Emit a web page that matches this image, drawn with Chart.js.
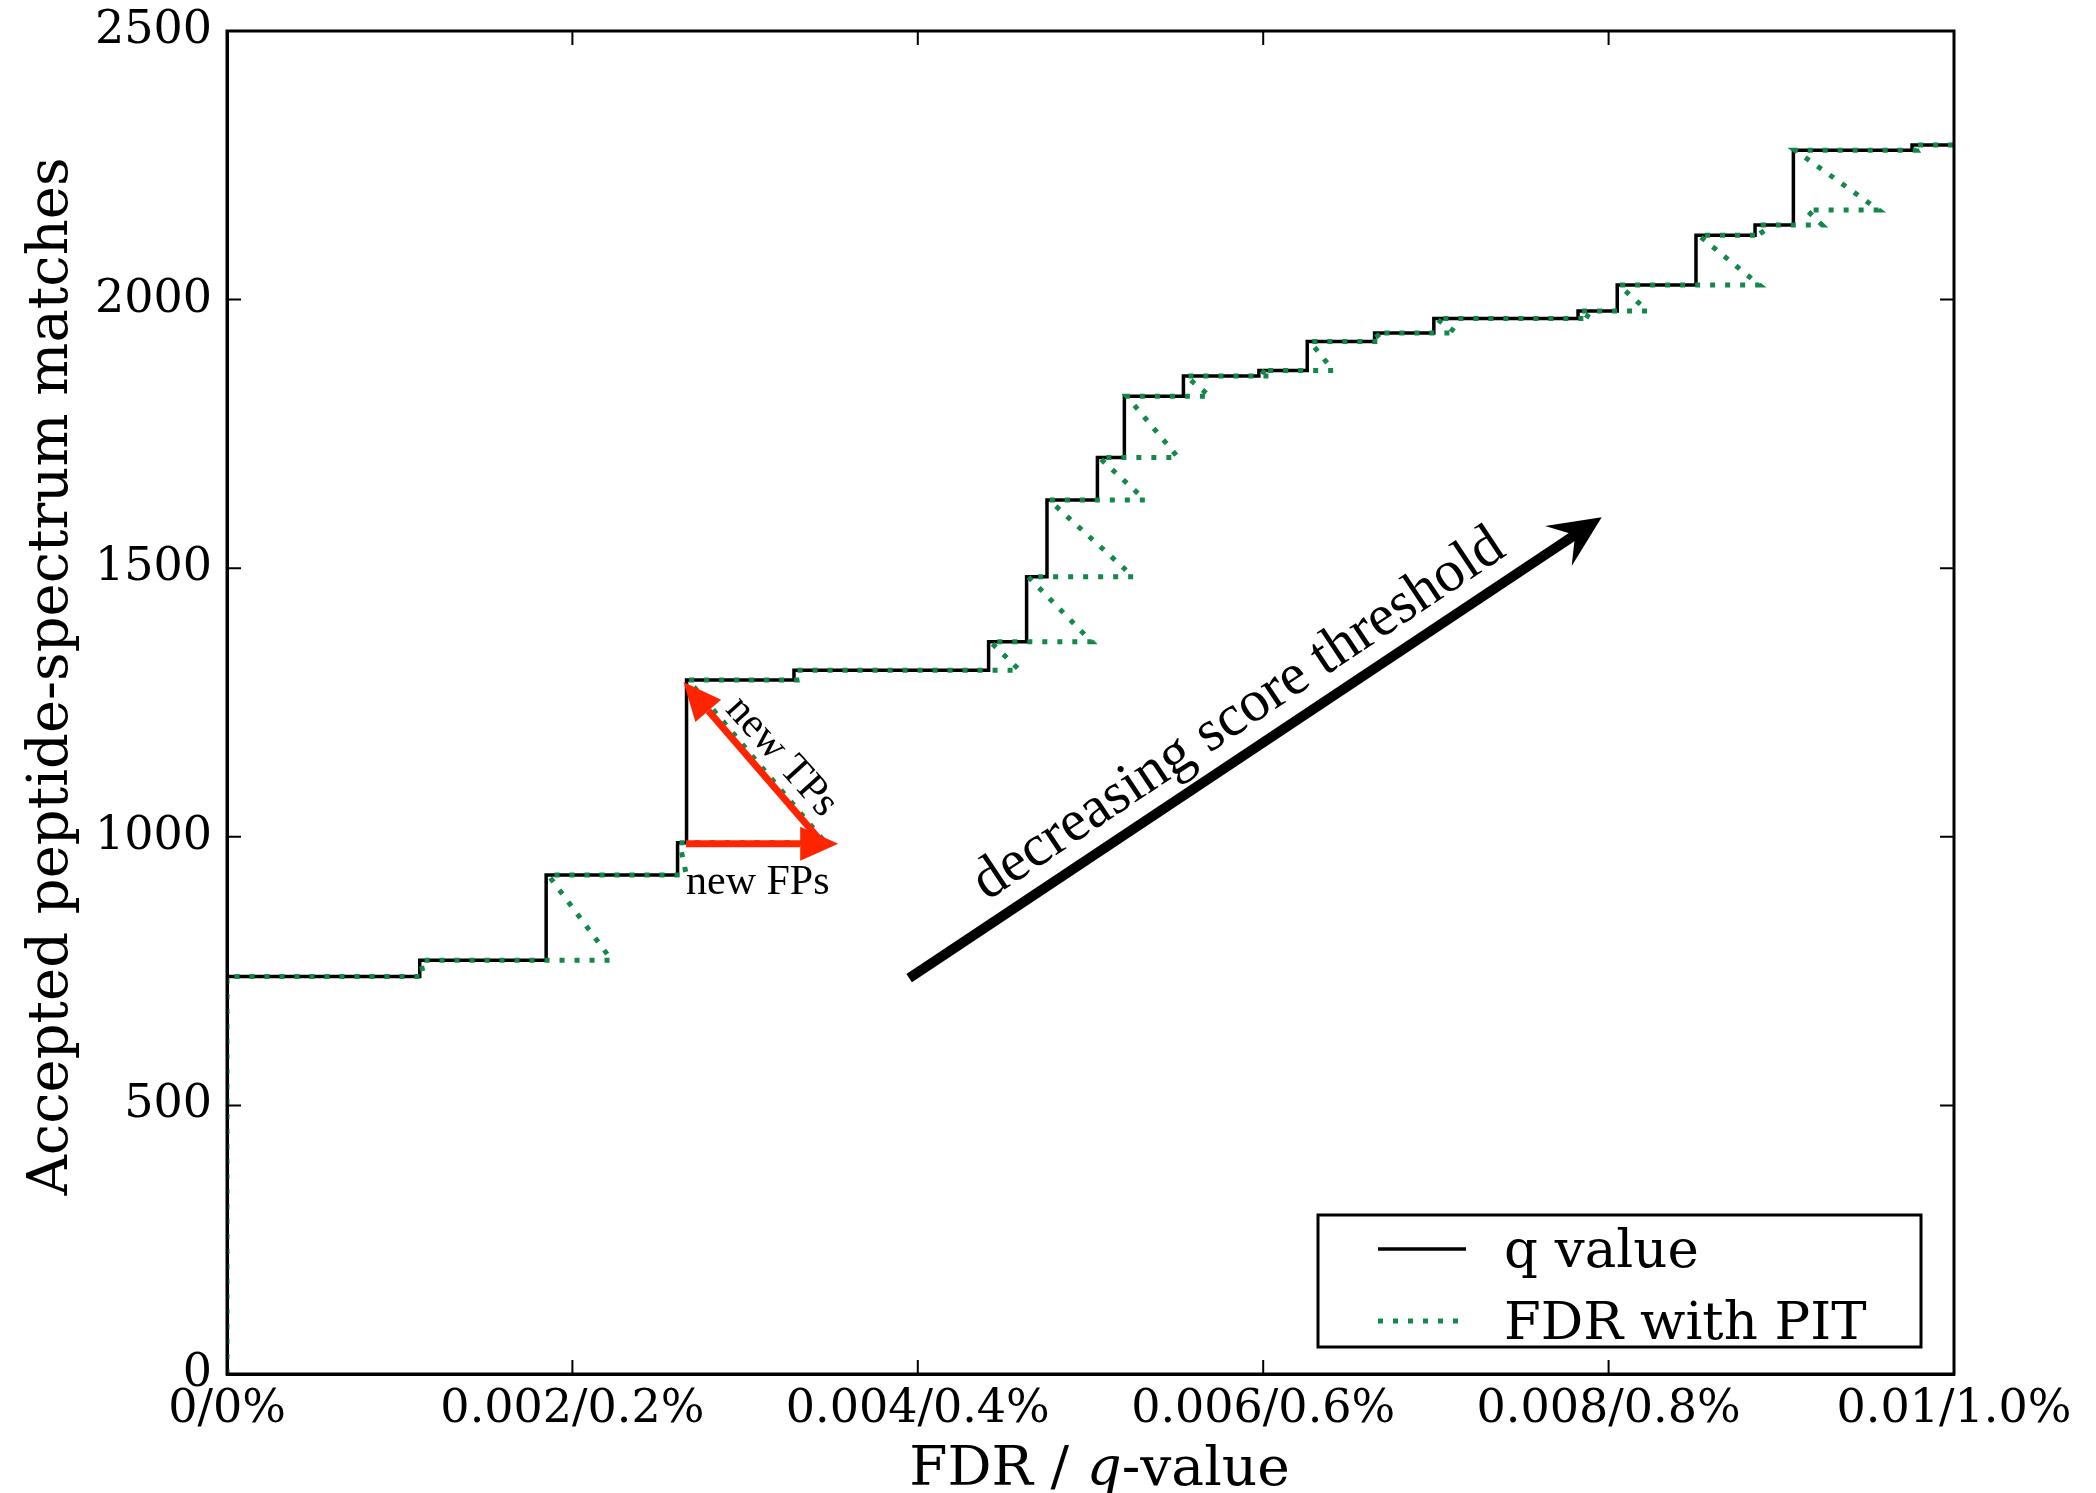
<!DOCTYPE html>
<html>
<head>
<meta charset="utf-8">
<script src="https://cdn.jsdelivr.net/npm/chart.js@4.4.1/dist/chart.umd.min.js"></script>
<style>
  html, body { margin: 0; padding: 0; background: #fff; }
  #wrap { width: 2096px; height: 1493px; position: relative; }
</style>
</head>
<body>
<div id="wrap"><canvas id="fdrChart"></canvas></div>
<script>
// q value: x where the step happens, y = new level
const qFdr = [0, 0, 0.001116, 0.001848, 0.002609, 0.002661, 0.003283, 0.00441, 0.00463, 0.004748,
  0.00504, 0.005196, 0.005538, 0.005975, 0.006255, 0.006645, 0.006988, 0.007823, 0.00805, 0.008506,
  0.008848, 0.00907, 0.009757, 0.01];
const qAccepted = [0, 740, 770, 929, 989, 1292, 1310, 1363, 1484, 1627,
  1706, 1820, 1858, 1868, 1922, 1938, 1965, 1979, 2027, 2120,
  2139, 2278, 2288, 2288];

// FDR with PIT: path goes right (new FPs) then up-left (new TPs)
const pitFdr = [0, 0, 0.00114, 0.00112, 0.002228, 0.00186, 0.00266, 0.00262, 0.003466, 0.00267,
  0.0033, 0.00329, 0.00459, 0.00442, 0.005007, 0.00464, 0.005248, 0.00476, 0.005316, 0.00505,
  0.005508, 0.00521, 0.005692, 0.00555, 0.00605, 0.00598, 0.006406, 0.00627, 0.00669, 0.00665,
  0.00712, 0.007, 0.0079, 0.00783, 0.008225, 0.00806, 0.008874, 0.00852, 0.0089, 0.00886,
  0.009236, 0.009146, 0.009563, 0.00908, 0.009784, 0.009765, 0.01];
const pitAccepted = [0, 740, 740, 770, 770, 929, 929, 989, 989, 1292,
  1292, 1310, 1310, 1363, 1363, 1484, 1484, 1627, 1627, 1706,
  1706, 1820, 1820, 1858, 1858, 1868, 1868, 1922, 1922, 1938,
  1938, 1965, 1965, 1979, 1979, 2027, 2027, 2120, 2120, 2139,
  2139, 2167, 2167, 2278, 2278, 2288, 2288];

const xTickValues = [0, 0.002, 0.004, 0.006, 0.008, 0.01];
const xTickLabels = ['0/0%', '0.002/0.2%', '0.004/0.4%', '0.006/0.6%', '0.008/0.8%', '0.01/1.0%'];
const yTickValues = [0, 500, 1000, 1500, 2000, 2500];

const seriesNames = ['q value', 'FDR with PIT'];
const yTitle = 'Accepted peptide-spectrum matches';

// annotation anchors, in data units
const thresholdArrow = { from: [0.00395, 737], to: [0.00796, 1595] };
const thresholdText = { at: [0.0044, 880], text: 'decreasing score threshold' };
const fpArrow = { from: [0.002658, 987], to: [0.003539, 987] };
const tpArrow = { from: [0.003431, 995], to: [0.002643, 1288] };
const fpText = { at: [0.002658, 893], text: 'new FPs' };
const tpText = { at: [0.002880, 1236], text: 'new TPs' };

const green = '#12884a';
const red = '#ff2400';
const serif = '"DejaVu Serif", serif';
const times = '"Liberation Serif", "Times New Roman", serif';

{
  'use strict';

  Chart.defaults.font.family = serif;
  Chart.defaults.color = '#000';

  const toPoints = function(xs, ys){
    return xs.map((x, i) => ({ x: x, y: ys[i] }));
  };

  const drawArrow = function(ctx, x0, y0, x1, y1, opts){
    const ang = Math.atan2(y1 - y0, x1 - x0);
    const cos = Math.cos(ang), sin = Math.sin(ang);
    const bx = x1 - cos * opts.notch, by = y1 - sin * opts.notch;
    const hx = x1 - cos * opts.len, hy = y1 - sin * opts.len;
    ctx.strokeStyle = opts.color;
    ctx.fillStyle = opts.color;
    ctx.lineWidth = opts.width;
    ctx.lineCap = 'butt';
    ctx.beginPath();
    ctx.moveTo(x0, y0);
    ctx.lineTo(bx, by);
    ctx.stroke();
    ctx.beginPath();
    ctx.moveTo(x1, y1);
    ctx.lineTo(hx - sin * opts.half, hy + cos * opts.half);
    ctx.lineTo(bx, by);
    ctx.lineTo(hx + sin * opts.half, hy - cos * opts.half);
    ctx.closePath();
    ctx.fill();
  };

  const annotate = {
    id: 'annotate',
    afterDraw(chart){
      const { ctx, chartArea: a, scales: { x, y } } = chart;
      const px = v => x.getPixelForValue(v);
      const py = v => y.getPixelForValue(v);
      ctx.save();

      // frame + inward ticks on all sides
      ctx.strokeStyle = '#000';
      ctx.lineWidth = 3;
      ctx.strokeRect(a.left, a.top, a.right - a.left, a.bottom - a.top);
      ctx.lineWidth = 2;
      ctx.beginPath();
      for(let v of xTickValues){
        const p = px(v);
        ctx.moveTo(p, a.bottom); ctx.lineTo(p, a.bottom - 14);
        ctx.moveTo(p, a.top); ctx.lineTo(p, a.top + 14);
      }
      for(let v of yTickValues){
        const p = py(v);
        ctx.moveTo(a.left, p); ctx.lineTo(a.left + 14, p);
        ctx.moveTo(a.right, p); ctx.lineTo(a.right - 14, p);
      }
      ctx.stroke();

      // y title
      ctx.fillStyle = '#000';
      ctx.textBaseline = 'alphabetic';
      ctx.textAlign = 'center';
      ctx.save();
      ctx.translate(67, (a.top + a.bottom) / 2 - 26);
      ctx.rotate(-Math.PI / 2);
      ctx.font = '56px ' + serif;
      ctx.fillText(yTitle, 0, 0);
      ctx.restore();

      // x title with italic q
      ctx.textAlign = 'left';
      const parts = [['FDR / ', 'normal'], ['q', 'italic'], ['-value', 'normal']];
      let total = 0;
      for(let part of parts){
        ctx.font = part[1] + ' 55px ' + serif;
        total += ctx.measureText(part[0]).width;
      }
      let tx = (a.left + a.right) / 2 - total / 2 + 9;
      for(let part of parts){
        ctx.font = part[1] + ' 55px ' + serif;
        ctx.fillText(part[0], tx, a.bottom + 111);
        tx += ctx.measureText(part[0]).width;
      }

      // big threshold arrow and its label
      const t0 = [px(thresholdArrow.from[0]), py(thresholdArrow.from[1])];
      const t1 = [px(thresholdArrow.to[0]), py(thresholdArrow.to[1])];
      drawArrow(ctx, t0[0], t0[1], t1[0], t1[1], { color: '#000', width: 10, len: 52, half: 24, notch: 32 });
      const tAng = Math.atan2(t1[1] - t0[1], t1[0] - t0[0]);
      ctx.save();
      ctx.translate(px(thresholdText.at[0]), py(thresholdText.at[1]));
      ctx.rotate(tAng);
      ctx.font = '59px ' + times;
      ctx.fillStyle = '#000';
      ctx.fillText(thresholdText.text, 0, 0);
      ctx.restore();

      // red FP / TP arrows
      drawArrow(ctx, px(fpArrow.from[0]), py(fpArrow.from[1]), px(fpArrow.to[0]), py(fpArrow.to[1]),
        { color: red, width: 7, len: 38, half: 17, notch: 38 });
      drawArrow(ctx, px(tpArrow.from[0]), py(tpArrow.from[1]), px(tpArrow.to[0]), py(tpArrow.to[1]),
        { color: red, width: 7, len: 38, half: 17, notch: 38 });
      ctx.fillStyle = '#000';
      ctx.font = '42px ' + times;
      ctx.fillText(fpText.text, px(fpText.at[0]), py(fpText.at[1]));
      ctx.save();
      ctx.translate(px(tpText.at[0]), py(tpText.at[1]));
      ctx.rotate(48 * Math.PI / 180);
      ctx.fillText(tpText.text, 0, 0);
      ctx.restore();

      // legend box, lower right
      const lw = 603, lh = 132;
      const lx = a.right - 33 - lw, ly = a.bottom - 27 - lh;
      ctx.fillStyle = '#fff';
      ctx.fillRect(lx, ly, lw, lh);
      ctx.strokeStyle = '#000';
      ctx.lineWidth = 3;
      ctx.strokeRect(lx, ly, lw, lh);
      chart.data.datasets.forEach((ds, i) => {
        const rowY = ly + 34 + i * 72;
        ctx.strokeStyle = ds.borderColor;
        ctx.lineWidth = ds.borderWidth;
        ctx.setLineDash(ds.borderDash || []);
        ctx.beginPath();
        ctx.moveTo(lx + 60, rowY);
        ctx.lineTo(lx + 148, rowY);
        ctx.stroke();
        ctx.setLineDash([]);
        ctx.fillStyle = '#000';
        ctx.font = '53px ' + serif;
        ctx.textBaseline = 'middle';
        ctx.fillText(ds.label, lx + 186, rowY + 4);
      });

      ctx.restore();
    }
  };

  const initChart = function(){
    const ctx = document.getElementById('fdrChart').getContext('2d');

    // eslint-disable-next-line no-undef, no-unused-vars
    const fdrChart = new Chart(ctx, {
      type: 'line',
      data: {
        datasets: [
          {
            label: seriesNames[0],
            data: toPoints(qFdr, qAccepted),
            borderColor: '#000',
            borderWidth: 3.5,
            stepped: 'before',
            pointRadius: 0,
            order: 1,
          },
          {
            label: seriesNames[1],
            data: toPoints(pitFdr, pitAccepted),
            borderColor: green,
            borderWidth: 5,
            borderDash: [5, 10],
            pointRadius: 0,
            tension: 0,
            order: 0,
          }
        ]
      },
      options: {
        responsive: true,
        maintainAspectRatio: false,
        animation: false,
        layout: {
          padding: { left: 0, right: 142, top: 31, bottom: 0 },
        },
        scales: {
          x: {
            type: 'linear',
            min: 0,
            max: 0.01,
            afterFit: s => { s.height = 119; s.paddingLeft = 0; s.paddingRight = 0; },
            afterBuildTicks: s => { s.ticks = xTickValues.map(v => ({ value: v })); },
            ticks: {
              callback: (v, i) => xTickLabels[i],
              font: { size: 46 },
              color: '#000',
              padding: 8,
              maxRotation: 0,
              autoSkip: false,
            },
            grid: { display: false, drawTicks: false },
            border: { display: true, color: '#000', width: 3 },
          },
          y: {
            type: 'linear',
            min: 0,
            max: 2500,
            afterFit: s => { s.width = 227; s.paddingTop = 0; s.paddingBottom = 0; },
            afterBuildTicks: s => { s.ticks = yTickValues.map(v => ({ value: v })); },
            ticks: {
              callback: v => String(v),
              font: { size: 46 },
              color: '#000',
              padding: 15,
              autoSkip: false,
            },
            grid: { display: false, drawTicks: false },
            border: { display: true, color: '#000', width: 3 },
          }
        },
        plugins: {
          legend: { display: false },
          tooltip: { enabled: false },
        },
      },
      plugins: [annotate],
    });
  };

  initChart();
}
</script>
</body>
</html>
